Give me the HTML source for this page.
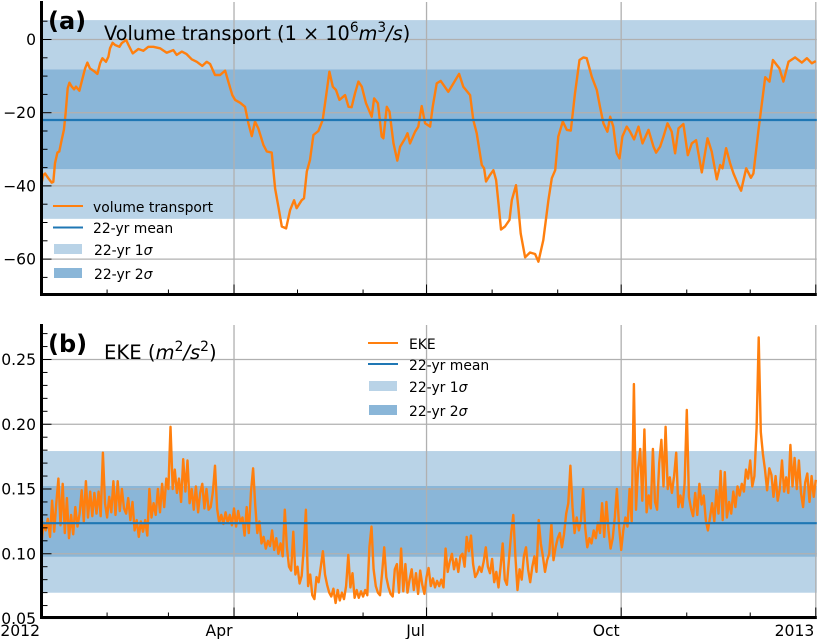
<!DOCTYPE html>
<html>
<head>
<meta charset="utf-8">
<title>Volume transport and EKE</title>
<style>
html,body{margin:0;padding:0;background:#fff;}
svg{display:block;}
text{font-family:"DejaVu Sans","Liberation Sans",sans-serif;fill:#000;}
.tick{font-size:15.6px;}
.leg{font-size:13.9px;}
.title{font-size:19.3px;}
.panel{font-size:24px;font-weight:bold;}
.sup{font-size:13.8px;}
</style>
</head>
<body>
<svg id="chart" xmlns="http://www.w3.org/2000/svg" width="819" height="639" viewBox="0 0 819 639">
<g id="layer-a"></g>
<g id="layer-b"></g>
<g>
<text class="panel" x="48" y="29">(a)</text>
<text class="title" x="104" y="40">Volume transport (1 × 10<tspan class="sup" dy="-8">6</tspan><tspan dy="8" font-style="italic">m</tspan><tspan class="sup" dy="-8">3</tspan><tspan dy="8" font-style="italic">/s</tspan>)</text>
<line x1="53" x2="83" y1="206" y2="206" stroke="#ff7f0e" stroke-width="2"/>
<text class="leg" x="93" y="212">volume transport</text>
<line x1="53" x2="83" y1="227.5" y2="227.5" stroke="#1f77b4" stroke-width="2"/>
<text class="leg" x="93" y="233">22-yr mean</text>
<rect x="54" y="244" width="28" height="10" fill="#b9d3e7"/>
<text class="leg" x="94" y="255">22-yr 1<tspan font-style="italic">σ</tspan></text>
<rect x="54" y="268" width="28" height="10" fill="#8ab6d8"/>
<text class="leg" x="94" y="279">22-yr 2<tspan font-style="italic">σ</tspan></text>
</g>
<g>
<text class="panel" x="48" y="352">(b)</text>
<text class="title" x="104" y="359" style="font-size:19.6px">EKE (<tspan font-style="italic">m</tspan><tspan class="sup" dy="-8">2</tspan><tspan dy="8" font-style="italic">/s</tspan><tspan class="sup" dy="-8">2</tspan><tspan dy="8">)</tspan></text>
<line x1="368" x2="398" y1="343" y2="343" stroke="#ff7f0e" stroke-width="2"/>
<text class="leg" x="409" y="349">EKE</text>
<line x1="368" x2="398" y1="364" y2="364" stroke="#1f77b4" stroke-width="2"/>
<text class="leg" x="409" y="370">22-yr mean</text>
<rect x="369" y="381" width="28" height="10" fill="#b9d3e7"/>
<text class="leg" x="409" y="392">22-yr 1<tspan font-style="italic">σ</tspan></text>
<rect x="369" y="405" width="28" height="10" fill="#8ab6d8"/>
<text class="leg" x="409" y="416">22-yr 2<tspan font-style="italic">σ</tspan></text>
</g>
</svg>
<script>
// Shared x axis (day of 2012)
const xMajorDays = [0, 91, 182, 274, 366];
const xMajorLabels = ["2012", "Apr", "Jul", "Oct", "2013"];
const xMinorDays = [31, 60, 121, 152, 213, 244, 305, 335];

// Panel (a) volume transport
const transportYTicks = [0, -20, -40, -60];
const transportYLabels = ["0", "\u221220", "\u221240", "\u221260"];
const transportYMinor = [5, -5, -10, -15, -25, -30, -35, -45, -50, -55, -65];
const transportMean = -22;
const transportBand1 = [5.3, -49];
const transportBand2 = [-8.2, -35.4];
const transportDays = [0,0.9,1.7,3.2,4.8,5.6,6.4,7.5,8.4,9.5,10.6,11.4,12.4,13.2,14.3,15.4,16.3,17.9,19,20.6,21.7,22.9,24.5,26.4,27.7,28.8,30.5,31.6,32.4,33.6,34.8,36.8,37.9,40,41.1,43.1,45.8,48.1,50.5,52.9,56,59.2,62.3,63.9,66.3,68.6,71,73.4,76,78.1,79.7,82,84.4,86.8,88.3,90.2,91.5,93.9,96.2,97.8,99.4,100.9,102.5,104.9,106.5,108.8,110.4,112,113.6,115.6,117.5,119.4,120.6,123,124.1,125.4,126.9,128.5,130.9,132.9,134.5,136.1,137.7,139.2,140.8,143.5,145.1,146.6,148.2,149.8,151.4,153.4,156.1,157.2,159,160.8,161.6,163.2,164.5,166.4,168.2,169.5,171.9,173,174.2,176.6,178.1,179.7,181.3,183.7,184.9,186.8,188.7,192.3,194.7,197.4,199.4,202.6,204.1,205.7,208.1,209.2,210.1,212,213.6,214.9,216,217.2,219.1,221.2,222.3,224.3,225.4,226.5,228.6,230.9,233.3,234.9,237.2,239.6,241.2,242.8,244.3,246.4,248.3,250.2,252.2,254.3,256.2,257.7,260.1,262.5,264,265.6,267.5,268.8,270.3,271.9,273.2,274.6,276.6,278.2,280.1,282.2,284.1,286.9,289.3,290.5,292.4,294,295.9,297.9,299.5,301.1,303.4,305.5,307.4,309.4,312.1,314.8,316.8,319.2,320.8,321.9,323.6,325.5,327.1,329.4,330.7,333.1,335.3,336.5,338.9,342.1,344.1,345.7,348.8,350.7,353.1,356.2,359.4,361.8,364.1,366];
const transportValues = [-39.3,-37,-36.6,-37.9,-39.1,-38.9,-33.8,-30.9,-30.6,-27.5,-24.7,-20.2,-13.3,-11.8,-12.9,-13.6,-12.9,-14,-11.5,-7.9,-6.3,-7.9,-8.5,-9.4,-6.5,-5.1,-6.1,-4.7,-2.4,-0.9,-1.5,-2,-1,-0.1,-1.5,-3.8,-2.6,-3.1,-2,-2,-2.4,-3.6,-2.9,-4.2,-3.3,-4,-5.4,-6.1,-7.2,-6.1,-6.7,-9.7,-9.7,-8.5,-11.5,-15.2,-16.5,-17.3,-18.4,-22.9,-26.4,-22.4,-24.3,-28.8,-30.6,-30.9,-40.7,-45.7,-51.1,-51.6,-46.6,-43.9,-46.1,-43.9,-43.4,-36.1,-32.9,-26.1,-25,-22,-15.6,-8.8,-12.9,-13.8,-16.5,-15.2,-18.4,-18.5,-14.7,-11.5,-12.9,-17.4,-21.1,-16.1,-17.4,-26.5,-27,-18.4,-19.7,-28.4,-33.1,-29.3,-27,-25.6,-28.4,-25.2,-23.8,-18.2,-22.9,-23.8,-18.4,-12,-11.3,-14.3,-12,-9.4,-12.9,-15.2,-22,-25.6,-34.3,-35.2,-38.8,-37,-35.7,-38.4,-44.8,-51.9,-51.1,-49.3,-43.9,-39.8,-46.1,-53,-59.5,-58.2,-58.6,-60.7,-54.8,-43.9,-37.9,-35.7,-26.5,-22.4,-24.7,-24.9,-14.7,-5.6,-4.9,-5.1,-10.2,-13.8,-18.4,-22.9,-25.2,-21.1,-23.8,-31.1,-32.5,-26.5,-23.8,-25.2,-27.3,-23.8,-28.4,-24.7,-29.3,-30.9,-29.3,-26.5,-22.9,-25.2,-31.1,-24.3,-23.1,-31.6,-28.4,-27.5,-36.3,-27,-30.6,-38.2,-34.3,-35.2,-29.7,-33.8,-36.6,-39.8,-41.3,-35.2,-37.8,-36.6,-24.7,-10.3,-11.5,-5.6,-7.9,-11.5,-6.1,-4.9,-6.3,-5.1,-6.5,-5.9];

// Panel (b) EKE: one value per day, index = day of year
const ekeYTicks = [0.05, 0.10, 0.15, 0.20, 0.25];
const ekeYLabels = ["0.05", "0.10", "0.15", "0.20", "0.25"];
const ekeYMinor = [0.06,0.07,0.08,0.09,0.11,0.12,0.13,0.14,0.16,0.17,0.18,0.19,0.21,0.22,0.23,0.24,0.26,0.27];
const ekeMean = 0.1236;
const ekeBand1 = [0.1793, 0.0699];
const ekeBand2 = [0.1523, 0.0977];
const ekeValues = [
.108,.124,.118,.127,.113,.141,.117,.139,.158,.122,
.154,.116,.143,.112,.130,.115,.136,.121,.131,.149,
.125,.156,.128,.148,.129,.147,.131,.148,.129,.178,
.139,.128,.144,.132,.156,.130,.156,.133,.150,.135,
.131,.143,.126,.140,.118,.126,.113,.125,.117,.126,
.114,.150,.128,.139,.130,.150,.132,.154,.136,.158,
.150,.198,.150,.165,.147,.158,.140,.173,.148,.172,
.139,.150,.134,.152,.132,.147,.154,.135,.150,.134,
.136,.148,.168,.135,.124,.130,.123,.132,.124,.130,
.122,.135,.121,.133,.124,.128,.114,.136,.116,.147,
.166,.138,.116,.125,.108,.113,.104,.110,.106,.118,
.103,.112,.100,.108,.098,.134,.105,.090,.087,.117,
.084,.090,.077,.083,.105,.134,.075,.084,.068,.065,
.082,.078,.090,.102,.084,.076,.070,.067,.073,.062,
.072,.064,.070,.065,.075,.099,.074,.085,.066,.072,
.066,.071,.067,.072,.068,.105,.121,.088,.075,.070,
.068,.085,.105,.082,.074,.069,.067,.088,.092,.070,
.104,.071,.092,.070,.080,.088,.072,.085,.069,.087,
.076,.069,.082,.089,.075,.081,.074,.079,.075,.080,
.074,.104,.086,.094,.100,.088,.096,.086,.098,.100,
.090,.113,.102,.114,.092,.082,.085,.090,.086,.094,
.105,.090,.085,.096,.078,.086,.074,.090,.108,.080,
.076,.096,.116,.130,.098,.072,.088,.080,.098,.105,
.088,.078,.090,.098,.086,.126,.108,.098,.086,.095,
.100,.123,.095,.105,.112,.116,.105,.115,.131,.139,
.168,.136,.116,.128,.118,.126,.150,.120,.105,.112,
.108,.118,.112,.124,.116,.139,.113,.140,.118,.104,
.112,.128,.150,.121,.103,.118,.128,.121,.150,.125,
.231,.134,.166,.181,.141,.196,.132,.145,.135,.181,
.140,.134,.170,.188,.152,.198,.150,.159,.147,.160,
.178,.136,.145,.136,.154,.211,.144,.135,.129,.147,
.130,.154,.138,.145,.126,.118,.128,.139,.125,.149,
.131,.164,.126,.163,.128,.140,.131,.148,.136,.152,
.145,.154,.148,.165,.158,.172,.152,.160,.197,.267,
.194,.177,.165,.149,.166,.161,.144,.160,.141,.150,
.172,.148,.159,.147,.184,.152,.174,.150,.172,.147,
.136,.155,.162,.140,.160,.144,.157
];

const NS = "http://www.w3.org/2000/svg";
const xLeft = 41.5, xRight = 815.8, dayCount = 366;
function xScale(d) { return xLeft + d * (xRight - xLeft) / dayCount; }
function yScaleA(v) { return 39.5 - v * 3.66; }
function yScaleB(v) { return 618.5 - (v - 0.05) * 1295; }

function make(parent, tag, props) {
  const el = document.createElementNS(NS, tag);
  for (const k in props) el.setAttribute(k, props[k]);
  parent.appendChild(el);
  return el;
}

function drawPanel(cfg) {
  const g = cfg.layer;
  const yS = cfg.yScale;
  const w = xRight - xLeft + 1;

  const b1 = make(g, "rect", {x: xLeft, y: yS(cfg.band1[0]), width: w, height: yS(cfg.band1[1]) - yS(cfg.band1[0]), fill: "#b9d3e7"});
  
  
  const b2 = make(g, "rect", {x: xLeft, y: yS(cfg.band2[0]), width: w, height: yS(cfg.band2[1]) - yS(cfg.band2[0]), fill: "#8ab6d8"});
  
  

  cfg.yTicks.forEach(function (v) {
    const gl = make(g, "line", {x1: xLeft, x2: xRight + 1, y1: yS(v), y2: yS(v), stroke: "#b0b0b0", "stroke-width": 1.3});
    
    
  });
  xMajorDays.forEach(function (d) {
    const gl = make(g, "line", {x1: xScale(d), x2: xScale(d), y1: cfg.top, y2: cfg.bottom, stroke: "#b0b0b0", "stroke-width": 1.3});
    
    
  });

  const pts = cfg.values.map(function (v, i) {
    const d = cfg.days ? cfg.days[i] : i;
    return xScale(d).toFixed(1) + "," + yS(v).toFixed(1);
  }).join(" ");
  const series = make(g, "polyline", {points: pts, fill: "none", stroke: "#ff7f0e", "stroke-width": cfg.lineWidth, "stroke-linejoin": "round"});
  
  

  const mean = make(g, "line", {x1: xLeft, x2: xRight + 1, y1: yS(cfg.mean), y2: yS(cfg.mean), stroke: "#1f77b4", "stroke-width": 2.2});
  
  

  cfg.yTicks.forEach(function (v, i) {
    const t = make(g, "line", {x1: xLeft, x2: xLeft + 10, y1: yS(v), y2: yS(v), stroke: "#000", "stroke-width": 1});
    
    
    const lab = make(g, "text", {x: 36, y: yS(v) + 5.5, "text-anchor": "end", class: "tick"});
    
    
    lab.textContent = cfg.yLabels[i];
  });
  cfg.yMinor.forEach(function (v) {
    const t = make(g, "line", {x1: xLeft, x2: xLeft + 6, y1: yS(v), y2: yS(v), stroke: "#000", "stroke-width": 1});
    
    
  });
  xMajorDays.forEach(function (d) {
    const t = make(g, "line", {x1: xScale(d), x2: xScale(d), y1: cfg.bottom, y2: cfg.bottom - 10, stroke: "#000", "stroke-width": 1});
    
    
  });
  xMinorDays.forEach(function (d) {
    const t = make(g, "line", {x1: xScale(d), x2: xScale(d), y1: cfg.bottom, y2: cfg.bottom - 5, stroke: "#000", "stroke-width": 1});
    
    
  });

  const sl = make(g, "line", {x1: xLeft, x2: xLeft, y1: cfg.top - 1, y2: cfg.bottom + 1.5, stroke: "#000", "stroke-width": 3});
  
  
  const sb = make(g, "line", {x1: xLeft - 1.5, x2: xRight + 1, y1: cfg.bottom, y2: cfg.bottom, stroke: "#000", "stroke-width": 3});
  
  
}

drawPanel({
  layer: document.getElementById("layer-a"), yScale: yScaleA, top: 2, bottom: 294.5,
  band1: transportBand1, band2: transportBand2, mean: transportMean,
  yTicks: transportYTicks, yLabels: transportYLabels, yMinor: transportYMinor,
  days: transportDays, values: transportValues, seriesName: "volume-transport-line", lineWidth: 2.4
});
drawPanel({
  layer: document.getElementById("layer-b"), yScale: yScaleB, top: 325, bottom: 617.5,
  band1: ekeBand1, band2: ekeBand2, mean: ekeMean,
  yTicks: ekeYTicks, yLabels: ekeYLabels, yMinor: ekeYMinor,
  values: ekeValues, seriesName: "eke-line", lineWidth: 2.4
});

const xLabelLayer = document.getElementById("layer-b");
xMajorDays.forEach(function (d, i) {
  const lab = make(xLabelLayer, "text", {x: xScale(d) - 1.5, y: 636, "text-anchor": "end", class: "tick"});
  
  
  lab.textContent = xMajorLabels[i];
});
</script>
</body>
</html>
